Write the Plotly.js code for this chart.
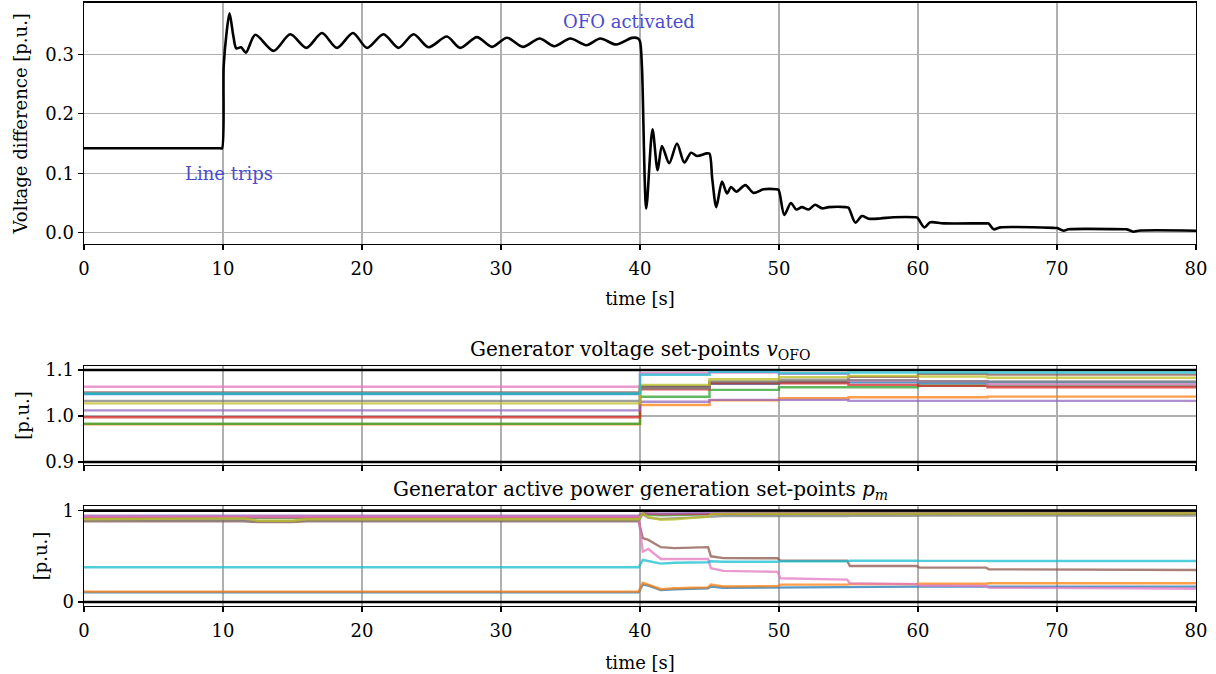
<!DOCTYPE html>
<html>
<head>
<meta charset="utf-8">
<script src="https://cdn.plot.ly/plotly-3.0.1.min.js"></script>
<style>html,body{margin:0;padding:0;background:#fff;}#chart{width:1216px;height:674px;}</style>
</head>
<body>
<div id="chart"></div>
<script>
// ---------- Top: voltage difference ----------
const diffTime = [0, 5, 9.8, 9.93, 10.05, 10.25, 10.47, 10.75, 10.96, 11.3, 11.65, 12.32, 13.64, 14.84, 16.0, 17.12, 18.2, 19.35, 20.36, 21.55, 22.63, 23.71, 24.79, 26.1, 27.07, 28.27, 29.35, 30.43, 31.58, 32.78, 33.83, 34.99, 36.14, 37.14, 38.29, 39.42, 39.85, 40.0, 40.14, 40.45, 40.9, 41.27, 41.58, 42.1, 42.66, 43.19, 43.67, 44.1, 44.8, 45.0, 45.2, 45.49, 45.9, 46.26, 46.55, 46.93, 47.58, 48.17, 48.89, 49.8, 49.97, 50.38, 50.86, 51.24, 51.65, 52.13, 52.6, 53.1, 53.58, 54.8, 55.0, 55.49, 55.97, 56.45, 57.29, 58.25, 59.8, 59.95, 60.45, 60.88, 61.85, 64.9, 65.08, 65.44, 65.92, 69.85, 70.0, 70.48, 70.83, 74.9, 75.03, 75.5, 75.86, 80];
const diffValue = [0.142, 0.142, 0.142, 0.142, 0.28, 0.335, 0.369, 0.33, 0.310, 0.312, 0.303, 0.333, 0.306, 0.334, 0.311, 0.336, 0.311, 0.336, 0.311, 0.334, 0.311, 0.334, 0.312, 0.330, 0.311, 0.329, 0.3126, 0.328, 0.3126, 0.3267, 0.3138, 0.3267, 0.3155, 0.3267, 0.3166, 0.3278, 0.327, 0.322, 0.279, 0.041, 0.174, 0.105, 0.146, 0.117, 0.150, 0.118, 0.1345, 0.129, 0.1334, 0.133, 0.09, 0.043, 0.086, 0.066, 0.077, 0.069, 0.080, 0.067, 0.073, 0.073, 0.072, 0.030, 0.050, 0.039, 0.043, 0.039, 0.047, 0.041, 0.043, 0.043, 0.042, 0.017, 0.028, 0.0235, 0.024, 0.026, 0.026, 0.0255, 0.009, 0.0174, 0.0157, 0.0157, 0.0155, 0.0057, 0.009, 0.008, 0.0078, 0.0034, 0.0057, 0.0057, 0.0056, 0.0017, 0.0034, 0.0034];

// ---------- Middle: generator voltage set-points ----------
const vTime = [0, 40, 45, 50, 55, 60, 65, 80];
const vG1  = [1.0475, 1.064, 1.070, 1.073, 1.073, 1.0713, 1.073, 1.073];
const vG2  = [0.982, 1.024, 1.034, 1.0386, 1.0408, 1.0408, 1.0422, 1.0422];
const vG3  = [0.9831, 1.042, 1.0567, 1.0626, 1.0626, 1.066, 1.066, 1.066];
const vG4  = [0.9972, 1.058, 1.0713, 1.0713, 1.0676, 1.0655, 1.0626, 1.0626];
const vG5  = [1.0123, 1.031, 1.035, 1.035, 1.033, 1.033, 1.033, 1.033];
const vG6  = [1.051, 1.063, 1.073, 1.075, 1.085, 1.0916, 1.09, 1.09];
const vG7  = [1.0635, 1.0928, 1.0945, 1.0916, 1.077, 1.0756, 1.0684, 1.0684];
const vG8  = [1.033, 1.06, 1.075, 1.079, 1.078, 1.0756, 1.075, 1.075];
const vG9  = [1.0275, 1.0676, 1.080, 1.0844, 1.0872, 1.086, 1.083, 1.083];
const vG10 = [1.049, 1.0895, 1.096, 1.093, 1.0945, 1.0945, 1.0945, 1.0945];
const vLimits = [0.9, 1.1];

// ---------- Bottom: active power set-points ----------
const pTime = [0, 11.5, 12.5, 15, 16, 39.9, 40.2, 40.6, 41.5, 42.5, 44.9, 45.1, 46, 49.9, 50.1, 54.9, 55.1, 59.9, 60.1, 64.9, 65.1, 74.9, 75.1, 80];
const pG1  = [0.105, 0.105, 0.11, 0.105, 0.105, 0.105, 0.19, 0.18, 0.13, 0.14, 0.15, 0.17, 0.155, 0.158, 0.165, 0.163, 0.165, 0.165, 0.168, 0.168, 0.168, 0.168, 0.168, 0.168];
const pG2  = [0.113, 0.113, 0.12, 0.113, 0.113, 0.113, 0.21, 0.19, 0.14, 0.15, 0.16, 0.19, 0.17, 0.175, 0.19, 0.19, 0.195, 0.195, 0.2, 0.2, 0.205, 0.205, 0.205, 0.205];
const pG3  = [0.92, 0.92, 0.915, 0.915, 0.92, 0.92, 0.965, 0.955, 0.95, 0.955, 0.96, 0.96, 0.96, 0.96, 0.962, 0.962, 0.963, 0.963, 0.963, 0.963, 0.963, 0.963, 0.963, 0.963];
const pG4  = [0.93, 0.93, 0.925, 0.925, 0.93, 0.93, 0.97, 0.965, 0.96, 0.962, 0.965, 0.968, 0.968, 0.968, 0.97, 0.97, 0.97, 0.97, 0.97, 0.97, 0.97, 0.97, 0.97, 0.97];
const pG5  = [0.945, 0.945, 0.94, 0.94, 0.945, 0.945, 0.975, 0.97, 0.968, 0.97, 0.972, 0.975, 0.975, 0.975, 0.975, 0.975, 0.975, 0.975, 0.975, 0.975, 0.975, 0.975, 0.975, 0.975];
const pG6  = [0.884, 0.884, 0.875, 0.875, 0.884, 0.884, 0.70, 0.68, 0.60, 0.59, 0.60, 0.50, 0.48, 0.478, 0.452, 0.452, 0.394, 0.394, 0.376, 0.376, 0.358, 0.355, 0.35, 0.35];
const pG7  = [0.93, 0.93, 0.925, 0.925, 0.93, 0.93, 0.55, 0.58, 0.47, 0.47, 0.47, 0.37, 0.34, 0.33, 0.26, 0.245, 0.205, 0.195, 0.18, 0.175, 0.155, 0.15, 0.15, 0.145];
const pG8  = [0.895, 0.895, 0.885, 0.885, 0.895, 0.895, 0.96, 0.92, 0.91, 0.915, 0.93, 0.935, 0.94, 0.94, 0.942, 0.942, 0.944, 0.944, 0.945, 0.945, 0.945, 0.945, 0.945, 0.945];
const pG9  = [0.906, 0.915, 0.89, 0.89, 0.905, 0.906, 0.97, 0.93, 0.90, 0.905, 0.935, 0.96, 0.965, 0.965, 0.968, 0.968, 0.97, 0.97, 0.972, 0.972, 0.972, 0.972, 0.972, 0.972];
const pG10 = [0.38, 0.38, 0.385, 0.38, 0.38, 0.38, 0.46, 0.45, 0.42, 0.43, 0.435, 0.445, 0.44, 0.44, 0.445, 0.445, 0.452, 0.452, 0.45, 0.45, 0.449, 0.449, 0.449, 0.449];
const pLimits = [0, 1];

const genColors = ['#1f77b4', '#ff7f0e', '#2ca02c', '#d62728', '#9467bd', '#8c564b', '#e377c2', '#7f7f7f', '#bcbd22', '#17becf'];
const vSeries = [vG1, vG2, vG3, vG4, vG5, vG6, vG7, vG8, vG9, vG10];
const pSeries = [pG1, pG2, pG3, pG4, pG5, pG6, pG7, pG8, pG9, pG10];

const FONT = 'DejaVu Serif, Liberation Serif, serif';
const FS = 18;
const traces = [];

traces.push({x: diffTime, y: diffValue, type: 'scatter', mode: 'lines',
  line: {color: '#000', width: 2.6, shape: 'spline', smoothing: 0.8}, xaxis: 'x', yaxis: 'y', hoverinfo: 'skip'});

vLimits.forEach(l => traces.push({x: [0, 80], y: [l, l], type: 'scatter', mode: 'lines',
  line: {color: '#000', width: 2.6}, xaxis: 'x2', yaxis: 'y2', hoverinfo: 'skip'}));
vSeries.forEach((s, i) => traces.push({x: vTime, y: s, type: 'scatter', mode: 'lines', opacity: 0.75,
  line: {color: genColors[i], width: 2.4, shape: 'hv'}, xaxis: 'x2', yaxis: 'y2'}));

pLimits.forEach(l => traces.push({x: [0, 80], y: [l, l], type: 'scatter', mode: 'lines',
  line: {color: '#000', width: 2.6}, xaxis: 'x3', yaxis: 'y3', hoverinfo: 'skip'}));
pSeries.forEach((s, i) => traces.push({x: pTime, y: s, type: 'scatter', mode: 'lines', opacity: 0.75,
  line: {color: genColors[i], width: 2.4}, xaxis: 'x3', yaxis: 'y3'}));

const axBase = {showline: true, mirror: true, linecolor: '#000', linewidth: 1.4,
  ticks: 'outside', ticklen: 5, tickwidth: 1.2, tickcolor: '#000',
  showgrid: true, gridcolor: '#b0b0b0', gridwidth: 1.3, zeroline: false,
  tickfont: {family: FONT, size: FS, color: '#000'}};
const xBase = Object.assign({}, axBase, {range: [0, 80], tickvals: [0, 10, 20, 30, 40, 50, 60, 70, 80], ticklabelstandoff: 3});

const layout = {
  width: 1216, height: 674,
  margin: {l: 84, r: 20, t: 0, b: 0},
  paper_bgcolor: '#fff', plot_bgcolor: '#fff',
  showlegend: false,
  font: {family: FONT, size: FS, color: '#000'},
  xaxis: Object.assign({}, xBase, {domain: [0, 1], anchor: 'y',
    title: {text: 'time [s]', font: {family: FONT, size: FS}, standoff: 14}}),
  yaxis: Object.assign({}, axBase, {domain: [0.638, 0.996], anchor: 'x', range: [-0.019, 0.387],
    tickvals: [0, 0.1, 0.2, 0.3], tickformat: '.1f',
    title: {text: 'Voltage difference [p.u.]', font: {family: FONT, size: FS}, standoff: 13}}),
  xaxis2: Object.assign({}, xBase, {domain: [0, 1], anchor: 'y2', showticklabels: false}),
  yaxis2: Object.assign({}, axBase, {domain: [0.310, 0.457], anchor: 'x2', range: [0.8935, 1.1087],
    tickvals: [0.9, 1.0, 1.1], tickformat: '.1f',
    title: {text: '[p.u.]', font: {family: FONT, size: FS}, standoff: 11}}),
  xaxis3: Object.assign({}, xBase, {domain: [0, 1], anchor: 'y3',
    title: {text: 'time [s]', font: {family: FONT, size: FS}, standoff: 16}}),
  yaxis3: Object.assign({}, axBase, {domain: [0.1009, 0.2493], anchor: 'x3', range: [-0.044, 1.051],
    tickvals: [0, 1],
    title: {text: '[p.u.]', font: {family: FONT, size: FS}, standoff: 10}}),
  annotations: [
    {text: 'Line trips', x: 10.4, y: 0.099, xref: 'x', yref: 'y', showarrow: false,
      font: {family: FONT, size: FS, color: '#4b4bcc'}},
    {text: 'OFO activated', x: 39.2, y: 0.356, xref: 'x', yref: 'y', showarrow: false,
      font: {family: FONT, size: FS, color: '#4b4bcc'}},
    {text: 'Generator voltage set-points <i>v</i><sub>OFO</sub>', x: 0.5, y: 0.457, xref: 'paper', yref: 'paper',
      xanchor: 'center', yanchor: 'bottom', yshift: 1, showarrow: false, font: {family: FONT, size: 20, color: '#000'}},
    {text: 'Generator active power generation set-points <i>p</i><sub><i>m</i></sub>', x: 0.5, y: 0.2493, xref: 'paper', yref: 'paper',
      xanchor: 'center', yanchor: 'bottom', yshift: 1, showarrow: false, font: {family: FONT, size: 20, color: '#000'}}
  ]
};

Plotly.newPlot('chart', traces, layout, {displayModeBar: false, staticPlot: true});
</script>
</body>
</html>
